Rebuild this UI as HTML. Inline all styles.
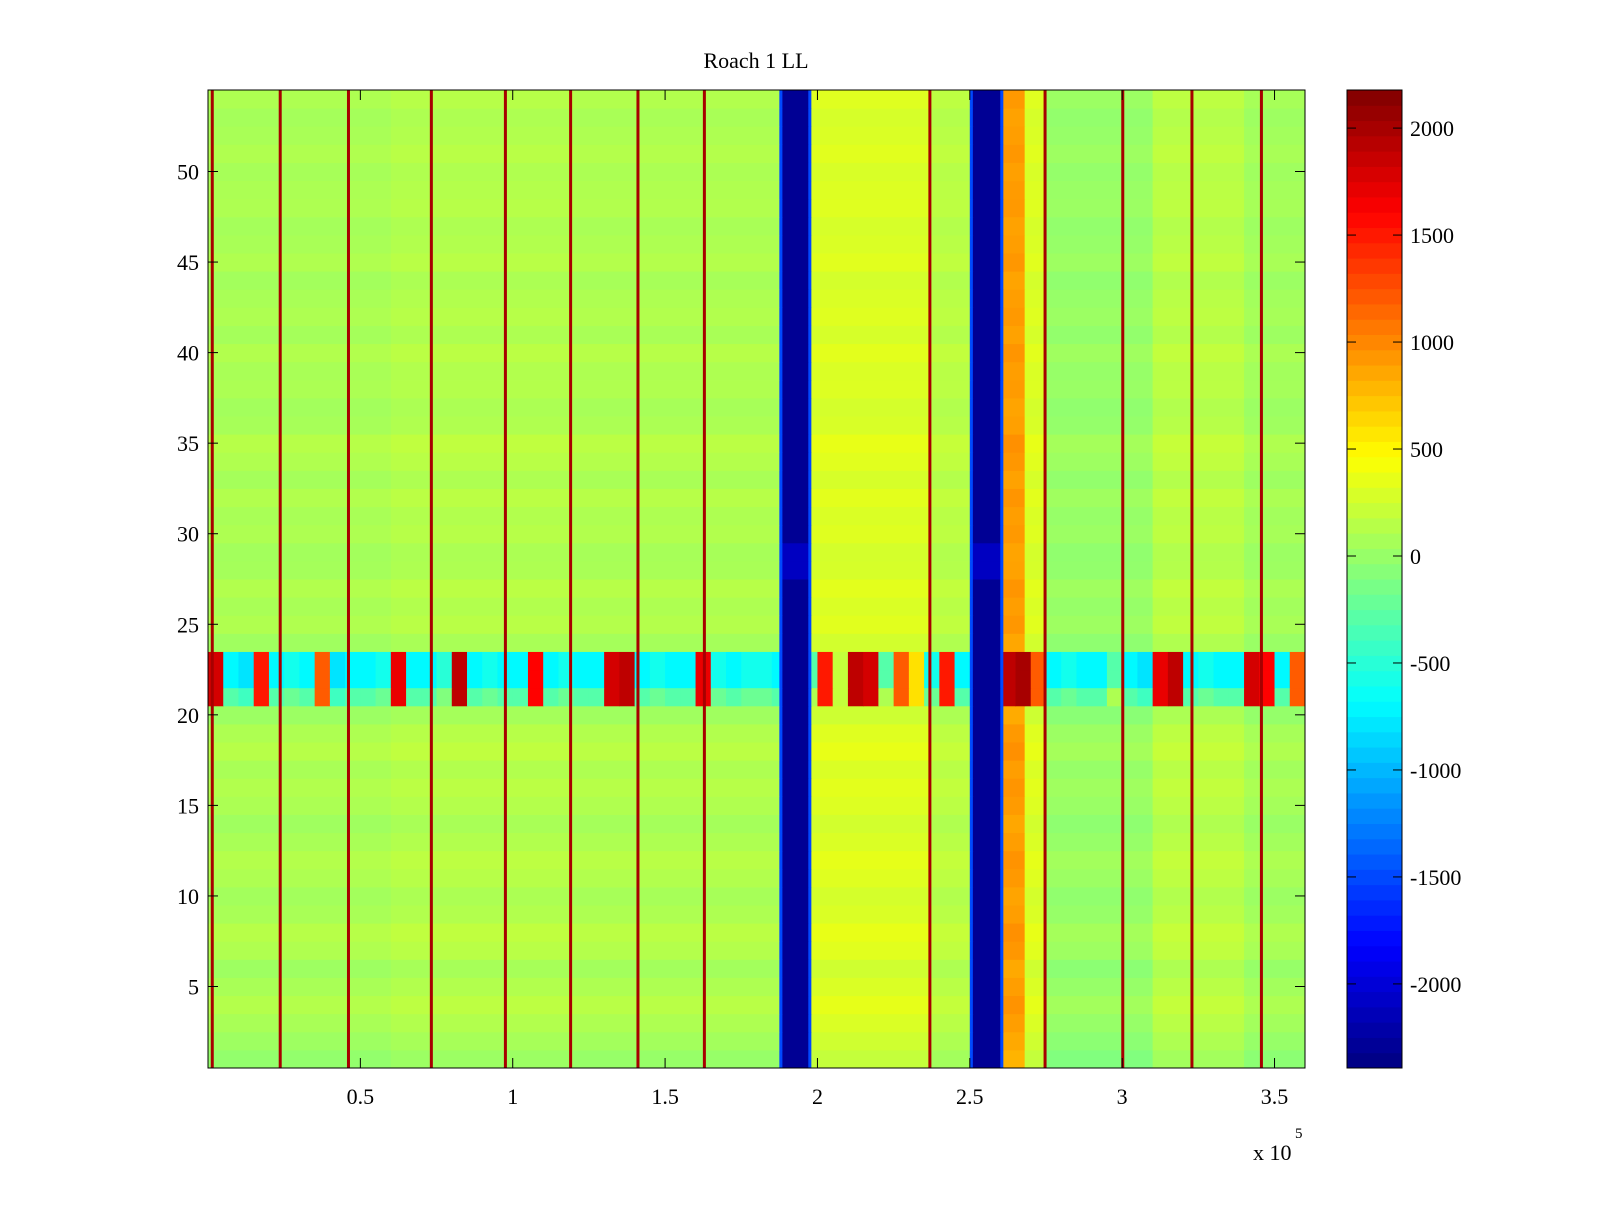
<!DOCTYPE html>
<html><head><meta charset="utf-8"><style>
body{margin:0;background:#fff;width:1600px;height:1200px;overflow:hidden}
svg text{font-family:"Liberation Serif",serif;font-size:22px;fill:#000}
</style></head><body>
<svg id="chart" width="1600" height="1200" xmlns="http://www.w3.org/2000/svg">
<text x="756" y="68" text-anchor="middle">Roach 1 LL</text>
<g id="cells"></g>
<g id="xt"></g>
<g id="yt"></g>
<rect x="208" y="90" width="1097" height="978" fill="none" stroke="#000" stroke-width="1"/>
<text x="1253" y="1160">x 10</text>
<text x="1295" y="1138" style="font-size:15px">5</text>
<g id="cb"></g>
</svg>
<script>
// data
const segEdges = [0, 60000, 120000, 187500, 188500, 197000, 198000, 237000, 250000, 251000, 260000, 261000, 268000, 275000, 310000, 340000, 360000];
const segValues = [80, 120, 100, -1500, -2300, -1500, 300, 150, -1500, -2300, -1500, 900, 300, 0, 150, 50];
const spikeX = [1300, 23600, 46000, 73200, 97500, 118900, 141000, 162800, 236800, 274600, 300100, 322800, 345600];
const spikeValue = 2000;
const rowOffsets = [-100,-50,0,50,0,-50,30,60,0,-30,20,50,0,-40,10,40,0,60,20,-60,-250,0,0,-40,30,0,40,-20,-30,20,0,40,-20,30,60,-10,-30,10,0,40,-20,20,0,-30,30,0,-20,20,10,-10,30,0,-20,20];
const blueRows = [28, 29];
const blueRowValue = -2100;
const bandRows = [21, 22, 23];
const bandValues = [1800,-700,-800,1500,-700,-600,-700,1200,-800,-700,-700,-600,1700,-700,-700,-500,1900,-700,-600,-700,-700,1600,-700,-600,-700,-700,1800,1900,-700,-600,-700,-700,1700,-600,-700,-600,-600,-700,1800,-300,1500,200,1900,1800,-300,1200,600,-600,1500,-700,-700,1800,1900,2000,1200,-700,-600,-700,-700,-300,-700,-800,1700,1900,-700,-600,-700,-700,1800,1600,-700,1200];
const bandRowShift = [400, 0, 0];
const xTicks = [0.5,1,1.5,2,2.5,3,3.5];
const yTicks = [5,10,15,20,25,30,35,40,45,50];
const cbTicks = [2000,1500,1000,500,0,-500,-1000,-1500,-2000];

const L=208,R=1305,T=90,B=1068, xmax=360000, ymin=0.5, ymax=54.5, cmin=-2393, cmax=2178;
const sx=v=>L+(v/xmax)*(R-L);
const sy=v=>B-(v-ymin)/(ymax-ymin)*(B-T);
const cy=v=>B-(v-cmin)/(cmax-cmin)*(B-T);
function jet(v){let t=(v-cmin)/(cmax-cmin);t=Math.max(0,Math.min(1,t));
 const f=x=>Math.max(0,Math.min(1,1.5-Math.abs(4*t-x)));
 return `rgb(${Math.round(255*f(3))},${Math.round(255*f(2))},${Math.round(255*f(1))})`;}
const NS="http://www.w3.org/2000/svg";
function mk(tag,attrs,parent){const e=document.createElementNS(NS,tag);for(const k in attrs)e.setAttribute(k,attrs[k]);parent.appendChild(e);return e;}
const cells=document.getElementById('cells');
const bw=xmax/bandValues.length;
for(let r=1;r<=54;r++){
 const y0=sy(r+0.5), y1=sy(r-0.5);
 const bi=bandRows.indexOf(r);
 for(let s=0;s<segValues.length;s++){
  const base=segValues[s];
  if(bi>=0 && base>-1000){
   for(let b=0;b<bandValues.length;b++){
    const a=Math.max(b*bw,segEdges[s]), z=Math.min((b+1)*bw,segEdges[s+1]);
    if(z<=a) continue;
    const bv = bandValues[b] < 0 ? bandValues[b] + bandRowShift[bi] : bandValues[b];
    const e=mk('rect',{x:sx(a),y:y0,width:sx(z)-sx(a)+0.5,height:y1-y0+0.5,fill:jet(bv)},cells);
    
    
   }
  } else {
   let v;
   if(base<=-2000) v = blueRows.includes(r) ? blueRowValue : base;
   else if(base<=-1000) v = base;
   else v = base + rowOffsets[r-1];
   const e=mk('rect',{x:sx(segEdges[s]),y:y0,width:sx(segEdges[s+1])-sx(segEdges[s])+0.5,height:y1-y0+0.5,fill:jet(v)},cells);
   
   
  }
 }
}
spikeX.forEach(x=>{
 const e=mk('rect',{x:sx(x)-1.2,y:T,width:3,height:B-T,fill:jet(spikeValue)},cells);
 
 
});
const xt=document.getElementById('xt');
xTicks.forEach(v=>{const x=sx(v*1e5);
 mk('line',{x1:x,x2:x,y1:B,y2:B-10,stroke:'#000'},xt);mk('line',{x1:x,x2:x,y1:T,y2:T+10,stroke:'#000'},xt);
 const t=mk('text',{x:x,y:B+36,'text-anchor':'middle'},xt);t.textContent=v;
 
 });
const yt=document.getElementById('yt');
yTicks.forEach(v=>{const y=sy(v);
 mk('line',{x1:L,x2:L+10,y1:y,y2:y,stroke:'#000'},yt);mk('line',{x1:R,x2:R-10,y1:y,y2:y,stroke:'#000'},yt);
 const t=mk('text',{x:L-9,y:y+8,'text-anchor':'end'},yt);t.textContent=v;
 
 });
const cb=document.getElementById('cb');
const CL=1347,CR=1402;
for(let i=0;i<64;i++){const a=cmin+(cmax-cmin)*i/64,b=cmin+(cmax-cmin)*(i+1)/64;
 const e=mk('rect',{x:CL,y:cy(b),width:CR-CL,height:cy(a)-cy(b)+0.5,fill:jet((a+b)/2)},cb);
 
 }
mk('rect',{x:CL,y:T,width:CR-CL,height:B-T,fill:'none',stroke:'#000'},cb);
cbTicks.forEach(v=>{const y=cy(v);
 mk('line',{x1:CL,x2:CL+9,y1:y,y2:y,stroke:'#000'},cb);mk('line',{x1:CR,x2:CR-9,y1:y,y2:y,stroke:'#000'},cb);
 const t=mk('text',{x:1410,y:y+8},cb);t.textContent=v;
 
 });
</script>
</body></html>
